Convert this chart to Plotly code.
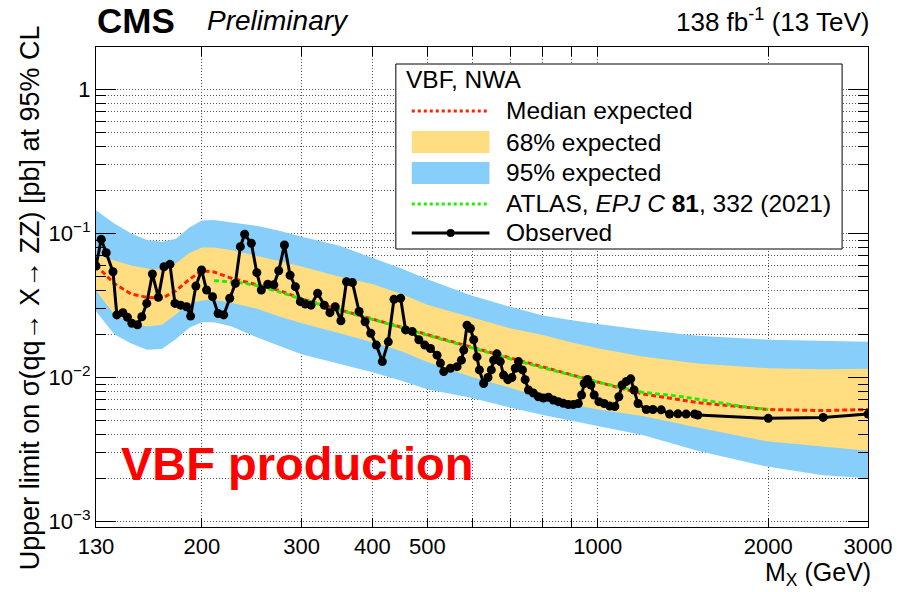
import math
import plotly.graph_objects as go

# ---------------- data ----------------
obs_mass = [130, 132.8, 135.5, 139.3, 141.5, 145, 147.7, 150.4, 153.9, 156.6,
            159.8, 163.5, 167.5, 171.4, 175.6, 179.2, 183.4, 187.9, 191, 195.1,
            199.7, 203.8, 208.8, 213.6, 218.5, 223.9, 229.1, 233.8, 237.9, 244.5,
            250, 254.6, 261.4, 267.9, 273.3, 279.7, 286.2, 292.4, 298.4, 304.5,
            311.6, 320.1, 328.9, 336.5, 343.8, 351.9, 359.9, 368.8, 378.9, 388.2,
            397.3, 406.4, 416.4, 426.6, 436.6, 448.6, 457.7, 470.1, 483.1, 494.9,
            506.5, 520.2, 527.4, 534.5, 549.3, 564.3, 574.4, 579.8, 587.6, 595.8,
            603.8, 611.9, 617.9, 628.7, 639.8, 648.6, 654.7, 663.5, 672.7, 681.7,
            693.7, 705.1, 714.8, 724.4, 736.2, 744.3, 754.3, 769.8, 785.5, 801.6,
            818, 834.7, 851.8, 869.2, 887, 905, 923.7, 936.1, 946.4, 959.1,
            972.4, 985.5, 1004.5, 1026, 1050, 1071.7, 1089.2, 1103.8, 1123.2, 1143.4,
            1158.8, 1177.7, 1218, 1251, 1294, 1339, 1385, 1432, 1482, 1502,
            2000, 2500, 3000]
obs_limit = [0.0594, 0.091, 0.0734, 0.0542, 0.0272, 0.0282, 0.0262, 0.0238, 0.0232, 0.0264,
             0.0327, 0.0523, 0.036, 0.0587, 0.061, 0.0327, 0.0318, 0.031, 0.0267, 0.0431,
             0.0557, 0.0405, 0.0364, 0.0278, 0.0272, 0.0355, 0.045, 0.0809, 0.0986, 0.0853,
             0.0534, 0.0405, 0.0444, 0.044, 0.0551, 0.0831, 0.0513, 0.0427, 0.0336, 0.0324,
             0.0318, 0.0384, 0.0318, 0.0282, 0.031, 0.0248, 0.0462, 0.0456, 0.0287, 0.0244,
             0.0203, 0.0168, 0.0129, 0.0177, 0.0349, 0.0355, 0.0214, 0.0209, 0.0183, 0.0168,
             0.0159, 0.0143, 0.0126, 0.011, 0.0116, 0.0119, 0.0132, 0.0155, 0.0231, 0.0219,
             0.0183, 0.0139, 0.0113, 0.0091, 0.0100, 0.0113, 0.0132, 0.0146, 0.0129, 0.0104,
             0.00967, 0.0100, 0.0116, 0.0129, 0.0113, 0.00967, 0.0082, 0.0078, 0.00736, 0.0072,
             0.0073, 0.00698, 0.0068, 0.00662, 0.0065, 0.0065, 0.0066, 0.00756, 0.0091, 0.0097,
             0.00887, 0.00756, 0.0068, 0.0066, 0.00634, 0.0063, 0.00736, 0.00887, 0.0094, 0.0098,
             0.0082, 0.0066, 0.0060, 0.0060, 0.00597, 0.00558, 0.0056, 0.00558, 0.00558, 0.0055,
             0.00521, 0.00529, 0.00558]

exp_mass = [130, 140, 150, 160, 170, 180, 190, 200, 210, 225, 250, 275, 300, 350,
            400, 450, 500, 600, 700, 800, 900, 1000, 1200, 1500, 2000, 2500, 3000]
exp_median = [0.060, 0.045, 0.038, 0.036, 0.0355, 0.040, 0.048, 0.055, 0.054, 0.049,
              0.044, 0.040, 0.0351, 0.0295, 0.0254, 0.0223, 0.0199, 0.0162, 0.0137, 0.0118,
              0.0104, 0.0093, 0.0077, 0.0067, 0.0060, 0.0059, 0.0060]
exp_up1 = [0.071, 0.065, 0.060, 0.057, 0.0557, 0.062, 0.073, 0.080, 0.080, 0.0766,
           0.070, 0.064, 0.059, 0.050, 0.0445, 0.038, 0.032, 0.026, 0.022, 0.0197,
           0.0175, 0.016, 0.014, 0.0125, 0.0116, 0.0114, 0.0115]
exp_dn1 = [0.040, 0.0275, 0.0237, 0.0226, 0.0232, 0.0275, 0.0327, 0.0343, 0.0346, 0.033,
           0.030, 0.0264, 0.0238, 0.0203, 0.0176, 0.0152, 0.0128, 0.0101, 0.0085, 0.0072,
           0.0065, 0.0060, 0.0054, 0.0045, 0.0036, 0.0033, 0.0031]
exp_up2 = [0.145, 0.117, 0.100, 0.090, 0.0875, 0.092, 0.110, 0.123, 0.124, 0.120,
           0.113, 0.104, 0.095, 0.082, 0.068, 0.057, 0.048, 0.037, 0.031, 0.027,
           0.025, 0.0235, 0.0215, 0.0195, 0.0183, 0.018, 0.0177]
exp_dn2 = [0.0288, 0.020, 0.0172, 0.0156, 0.0158, 0.0185, 0.0222, 0.0242, 0.0242, 0.0227,
           0.0190, 0.0165, 0.0145, 0.0125, 0.0109, 0.0095, 0.0083, 0.0072, 0.0062, 0.0055,
           0.0050, 0.0046, 0.0040, 0.0031, 0.0024, 0.0021, 0.0020]

atlas_mass = [210, 230, 250, 270, 300, 350, 400, 450, 500, 600, 700, 800, 900, 1000,
              1200, 1400, 1600, 1800, 2000]
atlas_limit = [0.047, 0.046, 0.0435, 0.040, 0.035, 0.0293, 0.0252, 0.0222, 0.0197, 0.016,
               0.0135, 0.0117, 0.0104, 0.0093, 0.0079, 0.0074, 0.0068, 0.0063, 0.0060]

x_tickvals = [130, 200, 300, 400, 500, 1000, 2000, 3000]
x_ticktext = ["130", "200", "300", "400", "500", "1000", "2000", "3000"]
x_minor = [600, 700, 800, 900]
y_tickvals = [0.001, 0.01, 0.1, 1]
y_ticktext = ["10<sup>\u22123</sup>", "10<sup>\u22122</sup>", "10<sup>\u22121</sup>", "1"]
y_minor = [k * 10.0 ** e for e in (-3, -2, -1, 0) for k in range(2, 10)]

legend_labels = ["Median expected", "68% expected", "95% expected",
                 "ATLAS, <i>EPJ C</i> <b>81</b>, 332 (2021)", "Observed"]

# ---------------- style ----------------
FONT = "Liberation Sans"
YELLOW = "#FFDD80"
BLUE = "#87CEFA"
RED = "#FF2200"
GREEN = "#22EE00"
GRID = "#555555"

W, H = 904, 592
L, R, T, B = 96, 33, 47, 65
PW, PH = W - L - R, H - T - B


def px(xp):
    return (xp - L) / PW


def py(yp):
    return (H - B - yp) / PH


fig = go.Figure()

fig.add_trace(go.Scatter(
    x=exp_mass + exp_mass[::-1], y=exp_up2 + exp_dn2[::-1],
    fill="toself", fillcolor=BLUE, line=dict(width=0), mode="lines",
    hoverinfo="skip", showlegend=False))
fig.add_trace(go.Scatter(
    x=exp_mass + exp_mass[::-1], y=exp_up1 + exp_dn1[::-1],
    fill="toself", fillcolor=YELLOW, line=dict(width=0), mode="lines",
    hoverinfo="skip", showlegend=False))
fig.add_trace(go.Scatter(
    x=exp_mass, y=exp_median, mode="lines",
    line=dict(color=RED, width=3, dash="5px,3px"), showlegend=False))
fig.add_trace(go.Scatter(
    x=atlas_mass, y=atlas_limit, mode="lines",
    line=dict(color=GREEN, width=3, dash="5px,3px"), showlegend=False))
fig.add_trace(go.Scatter(
    x=obs_mass, y=obs_limit, mode="lines+markers",
    line=dict(color="black", width=3),
    marker=dict(color="black", size=9, symbol="circle"), showlegend=False))

axis_common = dict(
    ticks="inside", tickcolor="black", tickwidth=1,
    showline=True, linecolor="black", linewidth=1, mirror="allticks",
    showgrid=True, gridcolor=GRID, griddash="1px,2px", gridwidth=1,
    zeroline=False, tickfont=dict(family=FONT, size=22, color="black"),
)

fig.update_xaxes(
    type="log", range=[math.log10(130), math.log10(3000)],
    tickmode="array", tickvals=x_tickvals, ticktext=x_ticktext, ticklen=9,
    minor=dict(tickmode="array", tickvals=x_minor, ticks="inside", ticklen=9,
               tickcolor="black", showgrid=True, gridcolor=GRID, griddash="1px,2px"),
    **axis_common)
fig.update_yaxes(
    type="log", range=[-3.037, 0.2935],
    tickmode="array", tickvals=y_tickvals, ticktext=y_ticktext, ticklen=20,
    minor=dict(tickmode="array", tickvals=y_minor, ticks="inside", ticklen=10,
               tickcolor="black", showgrid=True, gridcolor=GRID, griddash="1px,2px"),
    **axis_common)

shapes = []
annotations = []

# legend box
shapes.append(dict(type="rect", xref="paper", yref="paper",
                   x0=px(397), x1=px(845), y0=py(249), y1=py(64),
                   fillcolor="white", line=dict(color="black", width=1), layer="above"))
sx0, sx1 = px(413), px(491)
shapes.append(dict(type="line", xref="paper", yref="paper", x0=sx0, x1=sx1,
                   y0=py(111), y1=py(111), line=dict(color=RED, width=3, dash="3px,3px"),
                   layer="above"))
shapes.append(dict(type="rect", xref="paper", yref="paper", x0=sx0, x1=sx1,
                   y0=py(153), y1=py(131), fillcolor=YELLOW, line=dict(width=0), layer="above"))
shapes.append(dict(type="rect", xref="paper", yref="paper", x0=sx0, x1=sx1,
                   y0=py(184), y1=py(162), fillcolor=BLUE, line=dict(width=0), layer="above"))
shapes.append(dict(type="line", xref="paper", yref="paper", x0=sx0, x1=sx1,
                   y0=py(204), y1=py(204), line=dict(color=GREEN, width=3, dash="3px,3px"),
                   layer="above"))
shapes.append(dict(type="line", xref="paper", yref="paper", x0=sx0, x1=sx1,
                   y0=py(233), y1=py(233), line=dict(color="black", width=3), layer="above"))
shapes.append(dict(type="circle", xref="paper", yref="paper",
                   x0=px(448), x1=px(456), y0=py(237), y1=py(229),
                   fillcolor="black", line=dict(color="black", width=0), layer="above"))

annotations.append(dict(text="VBF, NWA", xref="paper", yref="paper", x=px(405), y=py(80),
                        xanchor="left", yanchor="middle", showarrow=False,
                        font=dict(family=FONT, size=24.5, color="black")))
for lab, yy in zip(legend_labels, [111, 142, 173, 204, 233]):
    annotations.append(dict(text=lab, xref="paper", yref="paper", x=px(506), y=py(yy),
                            xanchor="left", yanchor="middle", showarrow=False,
                            font=dict(family=FONT, size=24.5, color="black")))

# header texts
annotations.append(dict(text="<b>CMS</b>", xref="paper", yref="paper", x=px(95), y=py(21),
                        xanchor="left", yanchor="middle", showarrow=False,
                        font=dict(family=FONT, size=35, color="black")))
annotations.append(dict(text="<i>Preliminary</i>", xref="paper", yref="paper", x=px(205), y=py(21),
                        xanchor="left", yanchor="middle", showarrow=False,
                        font=dict(family=FONT, size=28, color="black")))
annotations.append(dict(text="138 fb<sup>-1</sup> (13 TeV)", xref="paper", yref="paper",
                        x=px(874), y=py(21), xanchor="right", yanchor="middle", showarrow=False,
                        font=dict(family=FONT, size=26, color="black")))
# axis titles
annotations.append(dict(text="Upper limit on \u03c3(qq\u2192 X\u2192 ZZ) [pb] at 95% CL",
                        xref="paper", yref="paper", x=px(30), y=py(298), textangle=-90,
                        xanchor="center", yanchor="middle", showarrow=False,
                        font=dict(family=FONT, size=27, color="black")))
annotations.append(dict(text="M<sub>X</sub> (GeV)", xref="paper", yref="paper",
                        x=px(876), y=py(574), xanchor="right", yanchor="middle", showarrow=False,
                        font=dict(family=FONT, size=25, color="black")))
# overlay text
annotations.append(dict(text="<b>VBF production</b>", xref="paper", yref="paper",
                        x=px(119), y=py(463), xanchor="left", yanchor="middle", showarrow=False,
                        font=dict(family=FONT, size=47, color="#FF0000")))

fig.update_layout(
    width=W, height=H, margin=dict(l=L, r=R, t=T, b=B, pad=0),
    paper_bgcolor="white", plot_bgcolor="white",
    showlegend=False, shapes=shapes, annotations=annotations,
    font=dict(family=FONT, color="black"),
)

fig.write_html("out.html")
